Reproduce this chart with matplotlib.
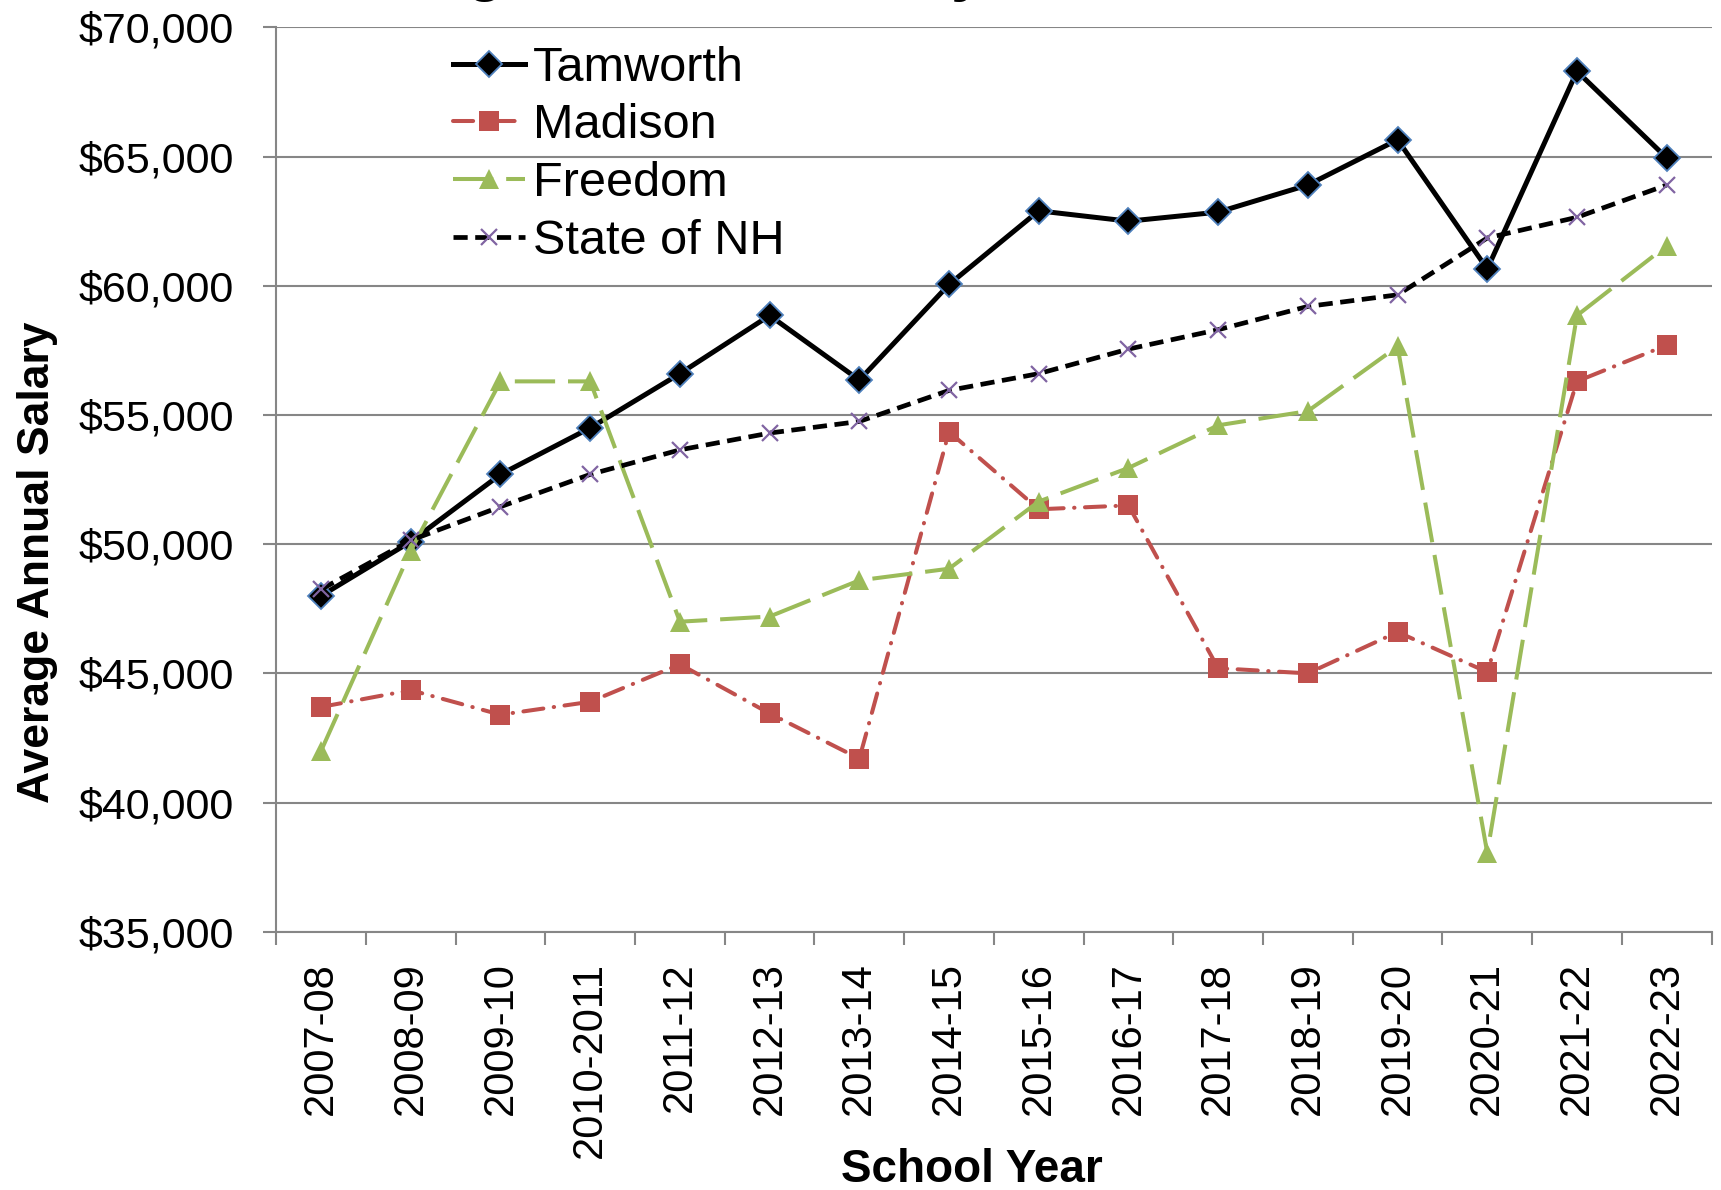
import numpy as np
import matplotlib
matplotlib.use('Agg')
import matplotlib.pyplot as plt

plt.rcParams['font.family'] = ['Liberation Sans', 'DejaVu Sans']

# 数据
school_years = ['2007-08', '2008-09', '2009-10', '2010-2011', '2011-12', '2012-13',
                '2013-14', '2014-15', '2015-16', '2016-17', '2017-18', '2018-19',
                '2019-20', '2020-21', '2021-22', '2022-23']
tamworth = [48000, 50100, 52700, 54500, 56600, 58850, 56350, 60050,
            62900, 62500, 62850, 63900, 65650, 60650, 68300, 64950]
madison = [43700, 44350, 43400, 43900, 45350, 43450, 41700, 54350,
           51350, 51500, 45200, 45000, 46600, 45050, 56300, 57700]
freedom = [42000, 49750, 56300, 56300, 47000, 47200, 48600, 49050,
           51650, 52950, 54600, 55150, 57650, 38050, 58850, 61550]
state_nh = [48250, 50150, 51450, 52700, 53650, 54300, 54750, 55950,
            56600, 57550, 58300, 59200, 59650, 61850, 62650, 63900]
y_ticks = [35000, 40000, 45000, 50000, 55000, 60000, 65000, 70000]

x = np.arange(len(school_years))

fig = plt.figure(figsize=(17.21, 11.90), dpi=100)
ax = fig.add_axes([0.1605, 0.217, 0.834, 0.760])

# 四条折线
ax.plot(x, tamworth, color='black', linewidth=3.6, marker='D', markersize=13,
        markerfacecolor='black', markeredgecolor='#4F81BD', markeredgewidth=1.3,
        label='Tamworth', zorder=3)
ax.plot(x, madison, color='#C0504D', linewidth=2.9, dashes=(5, 2.6, 0.1, 2.6),
        dash_capstyle='round', marker='s', markersize=14, markerfacecolor='#C0504D',
        markeredgecolor='#C0504D', markeredgewidth=0, label='Madison', zorder=3)
ax.plot(x, freedom, color='#9BBB59', linewidth=2.9, dashes=(10, 3.2),
        marker='^', markersize=15, markerfacecolor='#9BBB59',
        markeredgecolor='#9BBB59', markeredgewidth=0, label='Freedom', zorder=3)
ax.plot(x, state_nh, color='black', linewidth=3.4, dashes=(3.0, 1.6),
        marker='x', markersize=12, markeredgecolor='#8064A2', markeredgewidth=1.6,
        label='State of NH', zorder=4)

# 坐标轴
ax.set_xlim(-0.5, len(school_years) - 0.5)
ax.set_ylim(35000, 70000)
ax.set_yticks(y_ticks)
ax.set_yticklabels(['${:,}'.format(v) for v in y_ticks], fontsize=31)
ax.set_xticks(x)
ax.set_xticklabels(school_years, rotation=90, fontsize=30)
ax.set_xticks(np.arange(-0.5, len(school_years)), minor=True)
ax.tick_params(axis='x', which='major', length=0, pad=22)
ax.tick_params(axis='x', which='minor', length=9.4, width=1.5, color='#868686', direction='out')
ax.tick_params(axis='y', length=9.4, width=1.5, color='#868686', direction='out', pad=21)

ax.yaxis.grid(True, color='#868686', linewidth=1.5)
ax.set_axisbelow(True)
for side in ['top', 'right']:
    ax.spines[side].set_visible(False)
for side in ['left', 'bottom']:
    ax.spines[side].set_color('#868686')
    ax.spines[side].set_linewidth(1.5)

ax.set_ylabel('Average Annual Salary', fontsize=32, fontweight='bold')
ax.yaxis.set_label_coords(-0.152, 0.409)
fig.text(0.565, 8.0 / 1190, 'School Year', fontsize=33, fontweight='bold',
         ha='center', va='baseline')

# 图例
ax.legend(loc='upper left', bbox_to_anchor=(0.120, 0.985), frameon=False, fontsize=35,
          handlelength=1.48, handletextpad=0.16, labelspacing=0.26, borderpad=0.1,
          borderaxespad=0)

# 标题（只露出底部）
fig.text(0.174, 1.0 + 11.0 / 1190, 'Average Teacher Salary', fontsize=44,
         fontweight='bold', ha='left', va='baseline')

fig.savefig('out.png', dpi=100)
